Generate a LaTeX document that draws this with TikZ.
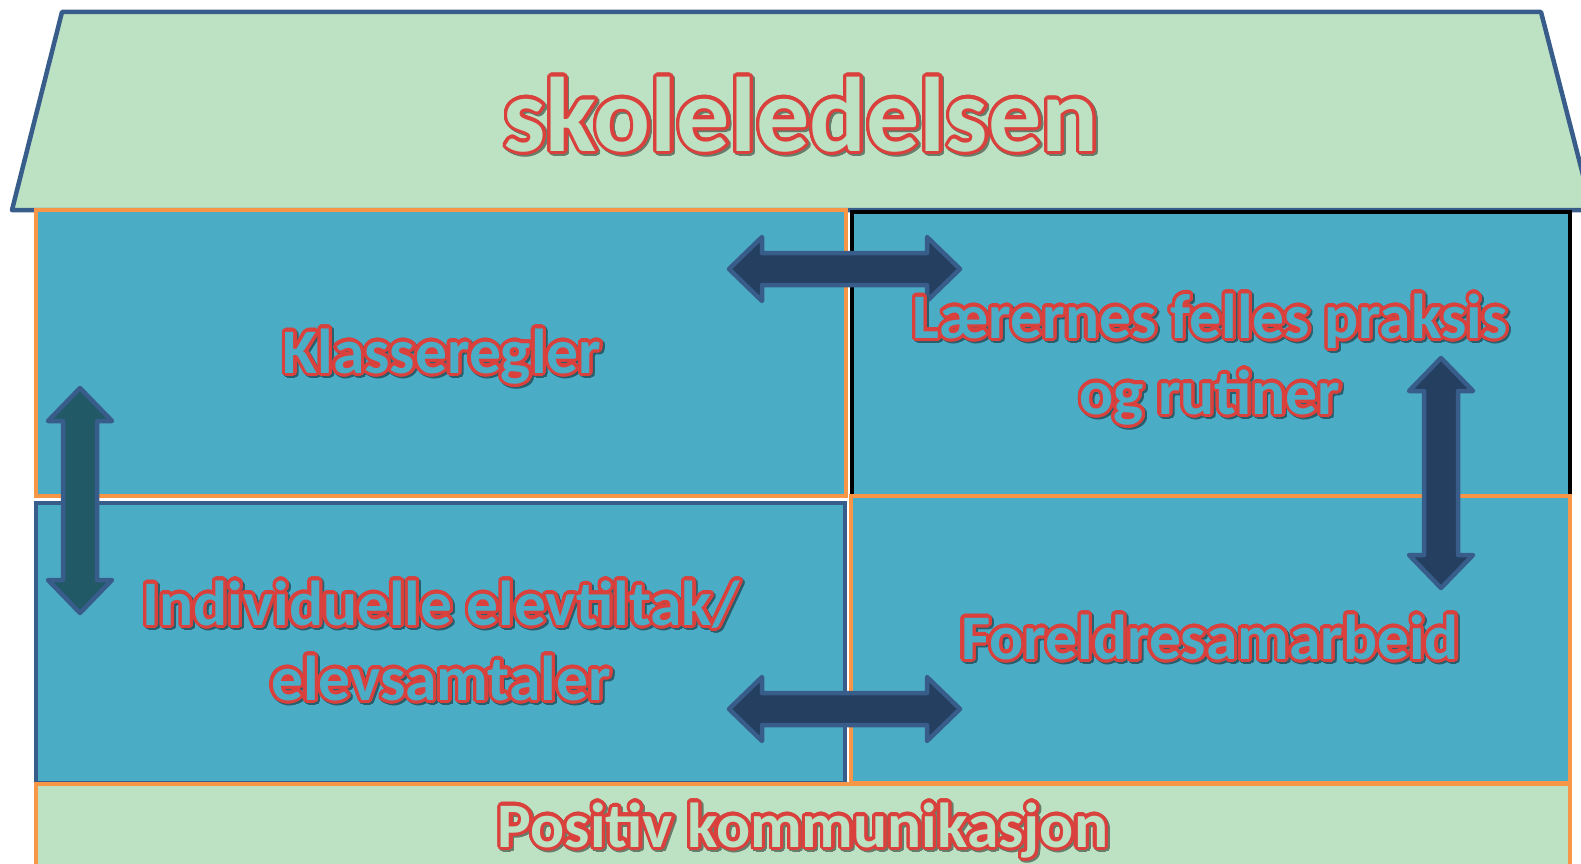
\documentclass[tikz,border=0pt]{standalone}
\usepackage{fontspec}
\setmainfont{Carlito}
\usepackage{contour}
\contourlength{3.2pt}
\contournumber{32}
\definecolor{roofgreen}{RGB}{189,226,195}
\definecolor{boxblue}{RGB}{75,172,198}
\definecolor{edgeorange}{RGB}{247,150,70}
\definecolor{edgeblue}{RGB}{56,93,138}
\definecolor{arrownavy}{RGB}{36,63,96}
\definecolor{arrowteal}{RGB}{33,89,103}
\definecolor{txtred}{RGB}{218,64,60}
\newcommand\otx[2]{\leavevmode\rlap{\kern1.8pt\raisebox{-1.8pt}{\contour{#1!55!black}{\textcolor{#1!55!black}{#2}}}}\contour{txtred}{\textcolor{#1}{#2}}}
\tikzset{
  roofstyle/.style={fill=roofgreen, draw=edgeblue, line width=4.5pt, line join=round},
  panel/.style={fill=boxblue, line width=4.5pt},
  basebar/.style={fill=roofgreen, draw=edgeorange, line width=4.5pt},
  blockarrow/.style={fill=arrownavy, draw=edgeblue, line width=4.5pt, line join=round},
  bigtext/.style={font=\bfseries\fontsize{106}{116}\selectfont, inner sep=0pt, anchor=base},
  labeltext/.style={font=\bfseries\fontsize{63.5}{76}\selectfont, inner sep=0pt, anchor=base, align=center},
}
\begin{document}
\begin{tikzpicture}[x=1pt,y=-1pt]
\useasboundingbox (0,0) rectangle (1581,864);
\clip (0,0) rectangle (1581,864);
% roof
\draw[roofstyle] (62,12) -- (1541,12) -- (1592,210) -- (12,210) -- cycle;
% panels
\draw[panel, draw=edgeblue] (36,503) rectangle (845,783);
\draw[panel, draw=edgeorange] (36,210) rectangle (846,496);
\draw[panel, draw=black] (852,212) rectangle (1570,496);
\draw[panel, draw=edgeorange] (851,496) rectangle (1570,783);
% base
\draw[basebar] (36,784) rectangle (1570,900);
% arrows
\draw[blockarrow] (729,269) -- (762,237) -- (762,253) -- (927,253) -- (927,237) -- (960,269) -- (927,301) -- (927,285) -- (762,285) -- (762,301) -- cycle;
\draw[blockarrow] (729,709) -- (762,677) -- (762,693) -- (927,693) -- (927,677) -- (960,709) -- (927,741) -- (927,725) -- (762,725) -- (762,741) -- cycle;
\draw[blockarrow, fill=arrowteal] (80,388) -- (112,421) -- (97,421) -- (97,580) -- (112,580) -- (80,613) -- (48,580) -- (63,580) -- (63,421) -- (48,421) -- cycle;
\draw[blockarrow] (1441,358) -- (1473,391) -- (1458,391) -- (1458,555) -- (1473,555) -- (1441,588) -- (1409,555) -- (1424,555) -- (1424,391) -- (1409,391) -- cycle;
% texts
\node[bigtext] (roof) at (801,151) {\otx{roofgreen}{skoleledelsen}};
\node[labeltext] (klasse) at (442,373) {\otx{boxblue}{Klasseregler}};
\node[labeltext] (laerer1) at (1210,338) {\otx{boxblue}{Lærernes felles praksis}};
\node[labeltext] (laerer2) at (1210,414) {\otx{boxblue}{og rutiner}};
\node[labeltext] (indiv1) at (441,625) {\otx{boxblue}{Individuelle elevtiltak/}};
\node[labeltext] (indiv2) at (441,700) {\otx{boxblue}{elevsamtaler}};
\node[labeltext] (foreldre) at (1210,659) {\otx{boxblue}{Foreldresamarbeid}};
\node[labeltext] (positiv) at (803,847) {\otx{roofgreen}{Positiv kommunikasjon}};
\end{tikzpicture}
\end{document}
